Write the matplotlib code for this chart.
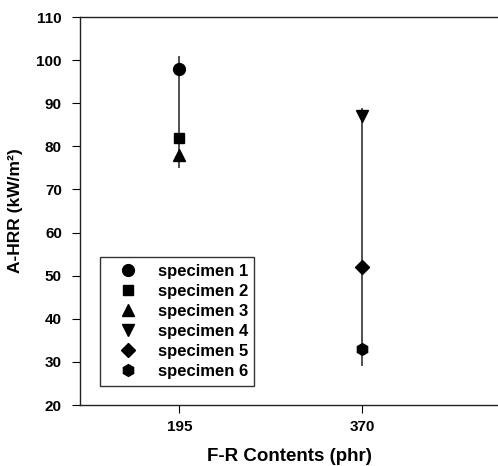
import matplotlib
matplotlib.use('Agg')
import matplotlib.pyplot as plt

# F-R content (phr) for each specimen
contents = [195, 195, 195, 370, 370, 370]
ahrr = [98, 82, 78, 87, 52, 33]
labels = ['specimen 1', 'specimen 2', 'specimen 3',
          'specimen 4', 'specimen 5', 'specimen 6']
markers = ['o', 's', '^', 'v', 'D', 'h']

# range bars drawn at each content level
range_x = [195, 370]
range_low = [75, 29]
range_high = [101, 89]

xticks = [195, 370]

plt.rcParams['font.family'] = ['Liberation Sans', 'DejaVu Sans']
plt.rcParams['font.weight'] = 'bold'

fig = plt.figure(figsize=(4.98, 4.66), dpi=100)
ax = fig.add_axes([0.1606, 0.1309, 0.8394, 0.8326])

ax.vlines(range_x, range_low, range_high, color='#333333', linewidth=1.2, zorder=1)

for x, y, lab, m in zip(contents, ahrr, labels, markers):
    size = {'D': 7, 's': 7.5}.get(m, 8.5)
    ax.plot(x, y, marker=m, color='black', markersize=size,
            linestyle='none', label=lab, zorder=3)

ax.set_xlim(100, 500)
ax.set_ylim(20, 110)
ax.set_xticks(xticks)
ax.set_xticklabels([str(v) for v in xticks])
ax.set_yticks(range(20, 111, 10))

ax.spines['right'].set_visible(False)
for s in ['left', 'bottom', 'top']:
    ax.spines[s].set_linewidth(1.0)
    ax.spines[s].set_color('#222222')

ax.tick_params(direction='out', length=6, width=0.8, labelsize=11)
ax.tick_params(axis='y', pad=7)
ax.tick_params(axis='x', pad=5)
for t in ax.get_xticklabels() + ax.get_yticklabels():
    t.set_fontweight('bold')

ax.set_xlabel('F-R Contents (phr)', fontsize=13.5, fontweight='bold', labelpad=10)
ax.set_ylabel('A-HRR (kW/m²)', fontsize=12.5, fontweight='bold', labelpad=10)

leg = ax.legend(loc='lower left', bbox_to_anchor=(0.048, 0.05), fontsize=12,
                frameon=True, fancybox=False, edgecolor='black',
                handlelength=2.6, handletextpad=0.45, borderpad=0.4,
                labelspacing=0.3, borderaxespad=0)
leg.get_frame().set_linewidth(1.0)
for t in leg.get_texts():
    t.set_fontweight('bold')

fig.savefig('out.png', dpi=100)
